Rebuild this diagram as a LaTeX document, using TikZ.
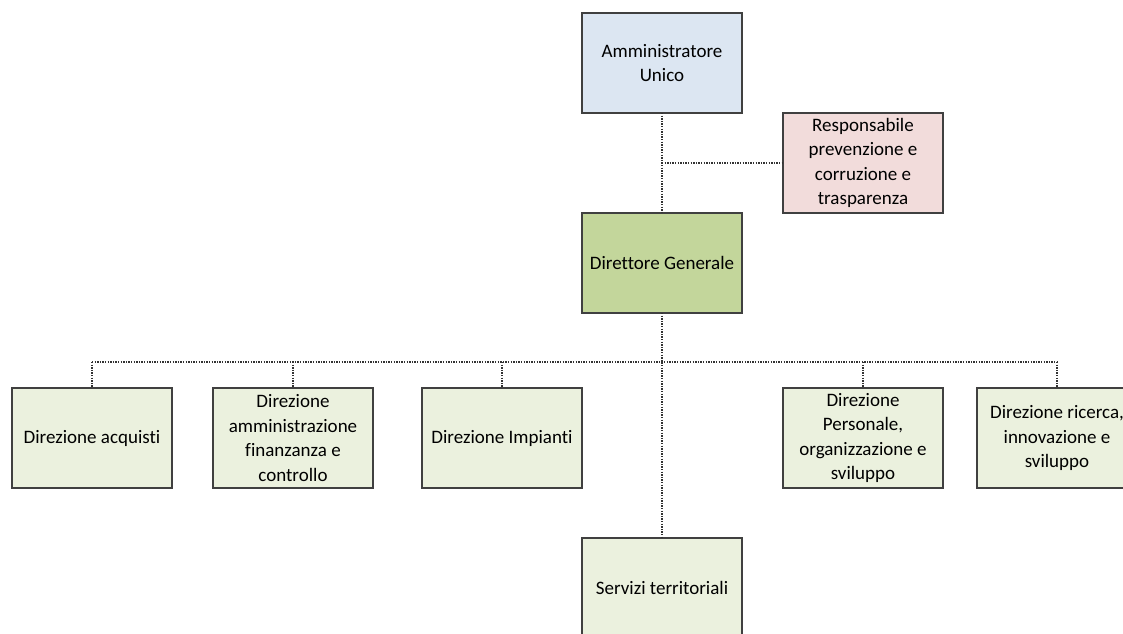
\documentclass[tikz,border=0pt]{standalone}
\usepackage{fontspec}
\setmainfont{Carlito}[Ligatures=NoCommon]
\definecolor{boxdraw}{HTML}{404040}
\definecolor{fillblue}{HTML}{DCE6F2}
\definecolor{fillpink}{HTML}{F2DCDB}
\definecolor{fillgreen}{HTML}{C3D69B}
\definecolor{filllight}{HTML}{EBF1DE}
\definecolor{conncol}{HTML}{333333}
\begin{document}
\begin{tikzpicture}[x=1pt,y=-1pt,
  orgbox/.style={draw=boxdraw, line width=1.3pt, minimum width=160pt, minimum height=100pt,
    inner sep=0pt, outer sep=0pt, align=center, text=black,
    font=\fontsize{19pt}{24.6pt}\selectfont},
  conn/.style={draw=conncol, line width=1.3pt, dash pattern=on 1.3pt off 1.3pt}]
\clip (0,0) rectangle (1123,633);
\useasboundingbox (0,0) rectangle (1123,633);
\fill[white] (0,0) rectangle (1123,633);

\node[orgbox, fill=fillblue] (au) at (662,63) {Amministratore\\Unico};
\node[orgbox, fill=fillpink] (rp) at (863,163) {Responsabile\\prevenzione e\\corruzione e\\trasparenza};
\node[orgbox, fill=fillgreen] (dg) at (662,263) {Direttore Generale};

\node[orgbox, fill=filllight] (acq) at (92,438) {Direzione acquisti};
\node[orgbox, fill=filllight] (amm) at (293,438) {Direzione\\amministrazione\\finanzanza e\\controllo};
\node[orgbox, fill=filllight] (imp) at (502,438) {Direzione Impianti};
\node[orgbox, fill=filllight] (per) at (863,438) {Direzione\\Personale,\\organizzazione e\\sviluppo};
\node[orgbox, fill=filllight] (ric) at (1057,438) {Direzione ricerca,\\innovazione e\\sviluppo};
\node[orgbox, fill=filllight] (ser) at (662,588) {Servizi territoriali};

\coordinate (mid) at (662,163);
\coordinate (bus) at (662,362);

\draw[conn] (au.south) -- (dg.north);
\draw[conn] (mid) -- (rp.west);
\draw[conn] (dg.south) -- (ser.north);
\draw[conn] (acq.north |- bus) -- (ric.north |- bus);
\foreach \n in {acq,amm,imp,per,ric}{
  \draw[conn] (\n.north |- bus) -- (\n.north);
}
\end{tikzpicture}
\end{document}
